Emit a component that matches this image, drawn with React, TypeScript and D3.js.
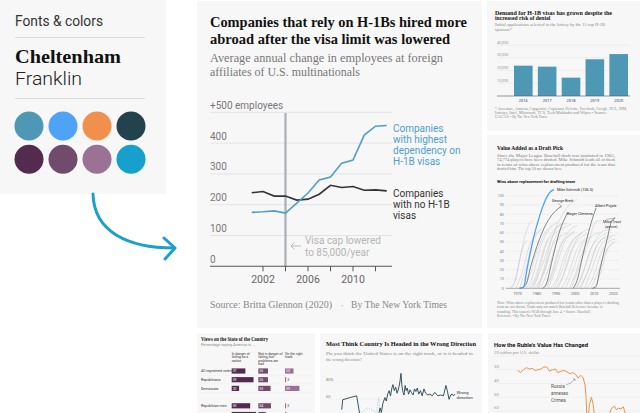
import React, { useRef, useEffect } from "react";
import * as d3 from "d3";

type G = d3.Selection<any, unknown, null, undefined>;

const SANS = "Roboto, 'Liberation Sans', sans-serif";
const SERIF = "'Liberation Serif', 'Times New Roman', serif";

// fonts & colors card
const swatches = ["#4f98b5", "#4ea3f7", "#f0904c", "#22434d", "#522b4f", "#704b6b", "#9b7195", "#17a0cc"];

// main chart: H-1B dependency
const years = [2001, 2002, 2003, 2004, 2005, 2006, 2007, 2008, 2009, 2010, 2011, 2012, 2013];
const highDependency = [175, 177, 180, 173, 205, 238, 280, 290, 335, 345, 426, 455, 457];
const noH1B = [239, 243, 228, 228, 215, 218, 234, 263, 256, 259, 247, 248, 245];
const employeeTicks = [0, 100, 200, 300, 400, 500];
const yearTicks = [2002, 2004, 2006, 2008, 2010, 2012];
const yearLabels = [2002, 2006, 2010];
const capYear = 2004;
const highLabel = ["Companies", "with highest", "dependency on", "H-1B visas"];
const noneLabel = ["Companies", "with no H-1B", "visas"];
const capNote = ["Visa cap lowered", "to 85,000/year"];

// thumbnail: lottery demand
const lotteryYears = ["2016", "2017", "2018", "2019", "2020"];
const lotteryApps = [23800, 23000, 14400, 28800, 32900];
const lotteryTicks = [10000, 20000, 30000, 40000];

// thumbnail: draft picks (year, cumulative WAR)
const warTicks = [0, 10, 20, 30, 40, 50, 60, 70, 80, 90, 100];
const draftTicks = [1970, 1980, 1990, 2000, 2010, 2020];
const otherPlayers: [number, number][][] = [
  [[1966, 0], [1968, 5], [1971, 30], [1974, 58], [1977, 72], [1978, 73]],
  [[1966, 0], [1969, 10], [1972, 40], [1975, 52]],
  [[1969, 0], [1972, 15], [1976, 45], [1980, 60], [1983, 65]],
  [[1971, 0], [1974, 20], [1978, 50], [1982, 63]],
  [[1973, 0], [1976, 12], [1980, 40], [1985, 62], [1988, 68]],
  [[1974, 0], [1977, 8], [1982, 45], [1987, 65], [1991, 72]],
  [[1976, 0], [1979, 10], [1984, 45], [1989, 63], [1993, 70]],
  [[1977, 0], [1980, 12], [1985, 48], [1990, 60], [1994, 66]],
  [[1978, 0], [1982, 20], [1987, 50], [1992, 68], [1996, 70]],
  [[1979, 0], [1983, 15], [1988, 45], [1993, 58]],
  [[1980, 0], [1984, 18], [1989, 52], [1994, 65], [1998, 69]],
  [[1981, 0], [1983, 15], [1988, 55], [1993, 78], [1998, 92], [2001, 95.9]],
  [[1982, 0], [1986, 20], [1991, 52], [1996, 60]],
  [[1984, 0], [1987, 12], [1992, 45], [1997, 58], [2000, 62]],
  [[1985, 0], [1988, 15], [1993, 48], [1998, 64], [2001, 68]],
  [[1986, 0], [1990, 22], [1995, 52], [2000, 60]],
  [[1987, 0], [1990, 8], [1995, 38], [2000, 55], [2004, 60]],
  [[1989, 0], [1993, 18], [1998, 48], [2003, 58]],
  [[1990, 0], [1993, 10], [1998, 40], [2003, 55], [2007, 59]],
  [[1991, 0], [1995, 20], [2000, 50], [2005, 62], [2008, 64]],
  [[1993, 0], [1996, 12], [2001, 42], [2006, 55]],
  [[1995, 0], [1999, 20], [2004, 48], [2009, 56]],
  [[1997, 0], [2000, 15], [2005, 45], [2010, 58], [2013, 60]],
  [[1998, 0], [2002, 22], [2007, 50], [2011, 72], [2014, 73]],
  [[2000, 0], [2003, 10], [2008, 42], [2013, 55], [2017, 60]],
  [[2001, 0], [2005, 22], [2010, 50], [2015, 62], [2019, 64]],
  [[2002, 0], [2006, 15], [2011, 45], [2016, 55]],
  [[2003, 0], [2007, 20], [2012, 48], [2017, 56], [2021, 57]],
  [[2005, 0], [2009, 22], [2014, 48], [2019, 55]],
  [[2006, 0], [2009, 10], [2014, 40], [2019, 52], [2021, 53]],
  [[2008, 0], [2011, 12], [2016, 40], [2020, 50]],
  [[2010, 0], [2013, 15], [2017, 42], [2021, 50]],
];
const schmidt: [number, number][] = [[1971, 0], [1973, 1], [1975, 22], [1978, 52], [1981, 75], [1984, 93], [1987, 104], [1989, 106.5]];
const brett: [number, number][] = [[1971, 0], [1974, 3], [1977, 25], [1980, 45], [1985, 70], [1990, 84], [1993, 88.6]];
const clemens: [number, number][] = [[1983, 0], [1985, 5], [1988, 30], [1992, 62], [1996, 81]];
const pujols: [number, number][] = [[1999, 0], [2001, 8], [2004, 35], [2007, 60], [2010, 81], [2011, 86.6]];
const trout: [number, number][] = [[2009, 0], [2011, 2], [2013, 20], [2015, 38], [2017, 55], [2019, 72], [2021, 76]];

// thumbnail: views on the country
const stateGroups = ["All registered voters", "Republicans", "Democrats", "Republican men", "Republican women"];
const inDanger = [37, 59, 20, 50, 66];
const notInDanger = [26, 26, 33, 34, 20];
const rightTrack = [23, 3, 39, 3, 4];
const stateHeaders = [
  ["In danger of", "failing as a", "nation"],
  ["Not in danger of", "failing, but", "problems are", "bad"],
  ["On the right", "track"],
];

// thumbnail: wrong direction poll
const pollYears = [1990.2, 1990.5, 1992.6, 1994.5, 1995.9, 1997.7, 2000.2, 2000.8, 2001.2, 2001.6, 2002.0, 2002.6, 2003.0, 2003.4, 2003.8, 2004.2, 2004.6, 2004.9, 2005.3, 2005.7, 2006.1, 2006.5, 2006.9, 2007.2, 2007.5, 2007.8, 2008.1, 2008.4, 2008.7, 2009.0, 2009.4, 2009.8, 2010.2, 2010.7, 2011.1, 2011.5, 2011.9, 2012.3, 2012.8, 2013.3, 2013.8, 2014.3, 2014.9, 2015.5, 2016.2, 2016.9, 2017.8, 2018.6, 2019.4, 2020.1, 2020.5, 2021.0, 2021.5, 2021.9, 2022.3, 2022.7];
const wrongDirection = [48, 59.5, 62, 64, 30, 28, 35, 42, 50, 45, 55, 62, 58, 66, 70, 64, 73, 77, 70, 74, 67, 72, 80, 90, 75, 68, 65, 76, 70, 73, 66, 71, 68, 65, 72, 69, 73, 66, 70, 64, 72, 67, 65, 66, 64, 68, 64, 65, 64, 76, 70, 60, 65, 66, 64, 66];
const rightDirection = [38, 35, 33, 30, 45, 50, 45, 62, 48, 40, 35, 30, 33, 28, 25, 30, 22, 20, 25, 22, 27, 24, 15, 8, 20, 27, 30, 20, 25, 22, 29, 24, 27, 30, 22, 26, 22, 29, 25, 31, 23, 28, 30, 29, 31, 27, 31, 30, 31, 18, 25, 33, 28, 27, 30, 28];
const pollTicks = [60, 80];

// thumbnail: ruble
const rubleDates = [2009.0, 2009.25, 2009.5, 2009.75, 2010.0, 2010.25, 2010.5, 2010.75, 2011.0, 2011.25, 2011.5, 2011.75, 2012.0, 2012.25, 2012.45, 2012.75, 2013.0, 2013.25, 2013.5, 2013.75, 2014.0, 2014.2, 2014.45, 2014.65, 2014.8, 2014.9, 2014.97, 2015.05, 2015.2, 2015.35, 2015.5, 2015.65, 2015.8, 2016.05, 2016.3, 2016.6, 2016.9, 2017.1, 2017.35, 2017.5, 2017.7, 2017.9, 2018.1, 2018.3, 2018.6, 2018.9, 2019.2, 2019.5];
const rublesPerDollar = [30.5, 32, 30, 28.5, 29.5, 29, 30.5, 30, 29.5, 28, 28, 31, 30, 29.5, 32, 31, 30.5, 31.5, 33, 32, 33.5, 36, 34, 36, 41, 50, 68, 66, 55, 50, 55, 65, 64, 78, 67, 64, 62, 58, 56.5, 59, 58, 58.5, 57, 62, 65, 67, 65, 63];
const rubleTicks = [20, 30, 40, 50, 60];

const label = (
  g: G, x: number, y: number, s: string, size: number, fill: string, font = SANS,
  o: { weight?: number; anchor?: string; len?: number } = {}
) => {
  const t = g.append("text").attr("x", x).attr("y", y).attr("font-size", size)
    .attr("fill", fill).attr("font-family", font).text(s);
  if (o.weight) t.attr("font-weight", o.weight);
  if (o.anchor) t.attr("text-anchor", o.anchor);
  if (o.len) t.attr("textLength", o.len).attr("lengthAdjust", "spacingAndGlyphs");
  return t;
};

const panel = (g: G, x: number, y: number, w: number, h: number) =>
  g.append("rect").attr("x", x).attr("y", y).attr("width", w).attr("height", h).attr("fill", "#f7f7f7");

const drawCard = (svg: G) => {
  const g = svg.append("g");
  panel(g, 0, 0, 166, 194);
  label(g, 15, 26, "Fonts & colors", 14, "#333", SANS, { len: 88 });
  g.append("line").attr("x1", 15).attr("x2", 145).attr("y1", 37.5).attr("y2", 37.5).attr("stroke", "#dcdcdc");
  label(g, 15, 63, "Cheltenham", 19, "#111", SERIF, { weight: 700, len: 106 });
  label(g, 15, 84.5, "Franklin", 19, "#222", SANS, { weight: 300, len: 67 });
  g.append("line").attr("x1", 15).attr("x2", 145).attr("y1", 98.5).attr("y2", 98.5).attr("stroke", "#dcdcdc");
  const cx = d3.scaleLinear().domain([0, 3]).range([29, 131]);
  const cy = d3.scaleLinear().domain([0, 1]).range([126, 159.3]);
  g.selectAll("circle.sw").data(swatches).join("circle")
    .attr("cx", (_, i) => cx(i % 4)).attr("cy", (_, i) => cy(Math.floor(i / 4)))
    .attr("r", 14.5).attr("fill", (d) => d);
  g.append("path").attr("d", "M93,194 C94,232 128,248 174,248").attr("fill", "none")
    .attr("stroke", "#1a9fcf").attr("stroke-width", 3).attr("stroke-linecap", "round");
  g.append("path").attr("d", "M164,238 L175,248 L165,259").attr("fill", "none")
    .attr("stroke", "#1a9fcf").attr("stroke-width", 3).attr("stroke-linecap", "round").attr("stroke-linejoin", "round");
};

const drawMain = (svg: G) => {
  const g = svg.append("g");
  panel(g, 197, 1, 285, 327);
  label(g, 210, 26.5, "Companies that rely on H-1Bs hired more", 15, "#121212", SERIF, { weight: 700, len: 257 });
  label(g, 210, 44, "abroad after the visa limit was lowered", 15, "#121212", SERIF, { weight: 700, len: 240 });
  label(g, 210, 61.5, "Average annual change in employees at foreign", 12.5, "#777", SERIF, { len: 233 });
  label(g, 210, 75.5, "affiliates of U.S. multinationals", 12.5, "#777", SERIF, { len: 150 });

  const x = d3.scaleLinear().domain([2001, 2013]).range([251.75, 386.75]);
  const y = d3.scaleLinear().domain([0, 500]).range([266.3, 112.3]);

  employeeTicks.forEach((v) => {
    if (v > 0) g.append("line").attr("x1", 210).attr("x2", 392).attr("y1", y(v)).attr("y2", y(v)).attr("stroke", "#e3e3e3");
    label(g, 210, y(v) - 3.5, v === 500 ? "+500 employees" : String(v), 10, "#777");
  });
  g.append("line").attr("x1", x(capYear)).attr("x2", x(capYear)).attr("y1", 113).attr("y2", y(0))
    .attr("stroke", "#a7b0b4").attr("stroke-width", 2.2);
  g.append("line").attr("x1", 210).attr("x2", 392).attr("y1", y(0)).attr("y2", y(0)).attr("stroke", "#555").attr("stroke-width", 1.1);
  yearTicks.forEach((t) => {
    g.append("line").attr("x1", x(t)).attr("x2", x(t)).attr("y1", y(0)).attr("y2", y(0) + 5).attr("stroke", "#555");
  });
  yearLabels.forEach((t) => label(g, x(t), 283, String(t), 10.5, "#666", SANS, { anchor: "middle" }));

  const line = d3.line<number>().x((_, i) => x(years[i])).y((d) => y(d));
  g.append("path").attr("d", line(noH1B)).attr("fill", "none").attr("stroke", "#333").attr("stroke-width", 1.6);
  g.append("path").attr("d", line(highDependency)).attr("fill", "none").attr("stroke", "#4f9fcb").attr("stroke-width", 1.6);

  highLabel.forEach((s, i) => label(g, 393, 131.5 + i * 11, s, 10, "#4f9fcb"));
  noneLabel.forEach((s, i) => label(g, 393, 196.5 + i * 11, s, 10, "#333"));

  g.append("path").attr("d", "M291,246 L301,246 M294.5,242.5 L291,246 L294.5,249.5").attr("fill", "none")
    .attr("stroke", "#bbb").attr("stroke-width", 1);
  capNote.forEach((s, i) => label(g, 305, 244 + i * 12, s, 10, "#b5b5b5"));

  label(g, 210, 308, "Source: Britta Glennon (2020)", 9.5, "#888", SERIF, { len: 122 });
  label(g, 341, 308, "•", 7, "#ccc", SERIF);
  label(g, 351, 308, "By The New York Times", 9.5, "#888", SERIF, { len: 96 });
};

const drawLottery = (svg: G) => {
  const g = svg.append("g");
  panel(g, 487, 1, 153, 130);
  label(g, 495, 14.5, "Demand for H-1B visas has grown despite the", 5.6, "#111", SERIF, { weight: 700, len: 117 });
  label(g, 495, 20, "increased risk of denial", 5.6, "#111", SERIF, { weight: 700 });
  label(g, 495, 26, "Initial applications selected in the lottery by the 15 top H-1B", 4.2, "#888", SERIF, { len: 110 });
  label(g, 495, 30.5, "sponsors*", 4.2, "#888", SERIF);
  const y = d3.scaleLinear().domain([0, 40000]).range([96, 45]);
  const x = d3.scaleBand().domain(lotteryYears).range([514, 628]).paddingInner(0.22);
  lotteryTicks.forEach((v) => {
    g.append("line").attr("x1", 497).attr("x2", 630).attr("y1", y(v)).attr("y2", y(v)).attr("stroke", "#e2e2e2").attr("stroke-width", 0.5);
    label(g, 497, y(v) - 1.3, d3.format(",")(v), 3.8, "#999");
  });
  g.selectAll("rect.bar").data(lotteryApps).join("rect")
    .attr("x", (_, i) => x(lotteryYears[i])!).attr("width", x.bandwidth())
    .attr("y", (d) => y(d)).attr("height", (d) => y(0) - y(d)).attr("fill", "#4f98b5");
  g.append("line").attr("x1", 497).attr("x2", 630).attr("y1", y(0)).attr("y2", y(0)).attr("stroke", "#555").attr("stroke-width", 0.6);
  lotteryYears.forEach((s) => label(g, x(s)! + x.bandwidth() / 2, 102, s, 4, "#444", SANS, { anchor: "middle" }));
  label(g, 495, 110, "* Accenture, Amazon, Capgemini, Cognizant, Deloitte, Facebook, Google, HCL, IBM,", 3.5, "#888", SERIF, { len: 132 });
  label(g, 495, 114, "Infosys, Intel, Microsoft, TCS, Tech Mahindra and Wipro  •  Source:", 3.5, "#888", SERIF, { len: 112 });
  label(g, 495, 118, "U.S.C.I.S.  •  By The New York Times", 3.5, "#888", SERIF);
};

const drawDraft = (svg: G) => {
  const g = svg.append("g");
  panel(g, 487, 135, 153, 193);
  label(g, 497, 150, "Value Added as a Draft Pick", 6.2, "#111", SERIF, { weight: 700, len: 66 });
  const desc = [
    "Since the Major League Baseball draft was instituted in 1965,",
    "74,774 players have been drafted. Mike Schmidt leads all of them",
    "in terms of wins above replacement produced for the team that",
    "drafted him. The top 50 are shown here.",
  ];
  desc.forEach((s, i) => label(g, 497, 156.7 + i * 4.5, s, 4.1, "#777", SERIF, i < 3 ? { len: 118 } : {}));
  label(g, 497, 183, "Wins above replacement for drafting team", 4.2, "#111", SANS, { weight: 700, len: 78 });

  const x = d3.scaleLinear().domain([1970, 2020]).range([517.7, 613.3]);
  const y = d3.scaleLinear().domain([0, 100]).range([288.3, 195.7]);
  warTicks.forEach((v) => {
    if (v > 0) g.append("line").attr("x1", 506).attr("x2", 620).attr("y1", y(v)).attr("y2", y(v))
      .attr("stroke", "#d5d5d5").attr("stroke-width", 0.4).attr("stroke-dasharray", "1,1");
    label(g, 504, y(v) + 1.3, String(v), 3.8, "#888", SANS, { anchor: "end" });
  });
  g.append("line").attr("x1", 506).attr("x2", 620).attr("y1", y(0)).attr("y2", y(0)).attr("stroke", "#555").attr("stroke-width", 0.5);
  draftTicks.forEach((t) => label(g, x(t), 295, String(t), 3.8, "#666", SANS, { anchor: "middle" }));

  const line = d3.line<[number, number]>().x((d) => x(d[0])).y((d) => y(d[1])).curve(d3.curveMonotoneX);
  otherPlayers.forEach((p) => g.append("path").attr("d", line(p)).attr("fill", "none").attr("stroke", "#c4c4c4").attr("stroke-width", 0.5));
  [brett, clemens, pujols, trout].forEach((p) => g.append("path").attr("d", line(p)).attr("fill", "none").attr("stroke", "#555").attr("stroke-width", 0.7));
  g.append("path").attr("d", line(schmidt)).attr("fill", "none").attr("stroke", "#4ea3f7").attr("stroke-width", 1.3);

  const last = (p: [number, number][]) => p[p.length - 1];
  label(g, x(last(schmidt)[0]) + 3, y(last(schmidt)[1]) + 1.5, "Mike Schmidt (106.5)", 3.8, "#222");
  label(g, 552, 202, "George Brett", 3.8, "#222");
  label(g, 567, 214.5, "Roger Clemens", 3.8, "#222");
  label(g, 595, 206.5, "Albert Pujols", 3.8, "#222");
  label(g, 603, 223, "Mike Trout", 3.8, "#222");
  label(g, 605, 227.5, "(active)", 3.8, "#222");
  g.append("path").attr("d", `M558,203.5 L${x(last(brett)[0])},${y(last(brett)[1])}`).attr("stroke", "#555").attr("stroke-width", 0.4);
  g.append("path").attr("d", `M566,213 L${x(last(clemens)[0])},${y(last(clemens)[1])}`).attr("stroke", "#555").attr("stroke-width", 0.4);
  g.append("path").attr("d", `M606,219.5 L${x(last(trout)[0])},${y(last(trout)[1])}`).attr("stroke", "#555").attr("stroke-width", 0.4);

  const note = [
    "Note: Wins above replacement produced for teams other than a player's drafting",
    "team are not shown. Totals may not match Baseball Reference because of",
    "rounding. This season's WAR through June 4.  •  Source: Baseball",
    "Reference  •  By The New York Times",
  ];
  note.forEach((s, i) => label(g, 497, 304 + i * 4.4, s, 3.6, "#888", SERIF, i < 1 ? { len: 122 } : {}));
};

const drawViews = (svg: G) => {
  const g = svg.append("g");
  panel(g, 197, 333, 118, 80);
  label(g, 201, 341, "Views on the State of the Country", 5.4, "#111", SERIF, { weight: 700, len: 67 });
  label(g, 201, 346, "Percentage saying America is ...", 3.8, "#888", SANS);
  const colX = d3.scaleLinear().domain([0, 2]).range([231.7, 285]);
  stateHeaders.forEach((lines, c) => lines.forEach((s, i) => label(g, colX(c), 355 + i * 3.4, s, 3.4, "#333")));
  const rowY = d3.scaleLinear().domain([0, 1]).range([371, 379.7]);
  const slots = [0, 1, 2, 4, 5];
  const w = d3.scaleLinear().domain([0, 100]).range([0, 37]);
  const cols = [inDanger, notInDanger, rightTrack];
  const colors = ["#522b4f", "#704b6b", "#9b7195"];
  stateGroups.forEach((name, r) => {
    const cy = rowY(slots[r]);
    const visible = cy < 410;
    if (visible) label(g, 201, cy + 1.3, name, 3.6, "#333");
    g.append("line").attr("x1", 201).attr("x2", 312).attr("y1", cy + 4.2).attr("y2", cy + 4.2)
      .attr("stroke", "#ddd").attr("stroke-width", 0.4).attr("stroke-dasharray", "1,1");
    cols.forEach((vals, c) => {
      const bw = w(vals[r]);
      g.append("rect").attr("x", colX(c)).attr("y", cy - 2.6).attr("width", bw).attr("height", 5.2).attr("fill", colors[c]);
      if (!visible) return;
      if (bw > 6) label(g, colX(c) + 1, cy + 1.3, String(vals[r]), 3.4, "#fff");
      else label(g, colX(c) + bw + 1.2, cy + 1.3, String(vals[r]), 3.4, "#333");
    });
  });
};

const drawPoll = (svg: G) => {
  const g = svg.append("g");
  panel(g, 320, 333, 162, 80);
  label(g, 326, 346, "Most Think Country Is Headed in the Wrong Direction", 6, "#111", SERIF, { weight: 700, len: 150 });
  label(g, 326, 354.5, "Do you think the United States is on the right track, or is it headed in", 4.3, "#888", SERIF, { len: 147 });
  label(g, 326, 360.5, "the wrong direction?", 4.3, "#888", SERIF);
  const x = d3.scaleLinear().domain([1990, 2023]).range([341, 456]);
  const y = d3.scaleLinear().domain([40, 80]).range([416.6, 382]);
  pollTicks.forEach((v) => {
    g.append("line").attr("x1", 326).attr("x2", 456).attr("y1", y(v)).attr("y2", y(v))
      .attr("stroke", "#ddd").attr("stroke-width", 0.4).attr("stroke-dasharray", "1,1");
    label(g, 326, y(v) - 1.5, v === 80 ? "80%" : String(v), 4, "#888");
  });
  const clip = g.append("clipPath").attr("id", "pollclip");
  clip.append("rect").attr("x", 320).attr("y", 362).attr("width", 162).attr("height", 60);
  const plot = g.append("g").attr("clip-path", "url(#pollclip)");
  const line = d3.line<number>().x((_, i) => x(pollYears[i])).y((d) => y(d));
  plot.append("path").attr("d", line(rightDirection)).attr("fill", "none").attr("stroke", "#8fc3dc").attr("stroke-width", 0.6).attr("stroke-dasharray", "1.5,1");
  plot.append("path").attr("d", line(wrongDirection)).attr("fill", "none").attr("stroke", "#22434d").attr("stroke-width", 0.9);
  label(g, 456.5, 393.5, "Wrong", 4.2, "#333");
  label(g, 456.5, 398.5, "direction", 4.2, "#333");
};

const drawRuble = (svg: G) => {
  const g = svg.append("g");
  panel(g, 488, 333, 152, 80);
  label(g, 494, 347, "How the Ruble's Value Has Changed", 5.6, "#111", SANS, { weight: 700, len: 94 });
  const x = d3.scaleLinear().domain([2009, 2019]).range([517.7, 633.7]);
  const y = d3.scaleLinear().domain([20, 60]).range([356, 411]);
  rubleTicks.forEach((v) => {
    g.append("line").attr("x1", 494).attr("x2", 640).attr("y1", y(v)).attr("y2", y(v)).attr("stroke", "#e6e6e6").attr("stroke-width", 0.5);
    label(g, 494, y(v) - 1.6, v === 20 ? "20 rubles per U.S. dollar" : String(v), 4.3, "#999");
  });
  const line = d3.line<number>().x((_, i) => x(rubleDates[i])).y((d) => y(d));
  g.append("path").attr("d", line(rublesPerDollar)).attr("fill", "none").attr("stroke", "#f0904c").attr("stroke-width", 1);
  ["Russia", "annexes", "Crimea"].forEach((s, i) => label(g, 551, 388 + i * 7.2, s, 4.6, "#555"));
  g.append("path").attr("d", "M566,385 Q571,384 575,379 M573,379 L575,379 L575,381").attr("fill", "none").attr("stroke", "#555").attr("stroke-width", 0.4);
};

const App = () => {
  const ref = useRef<SVGSVGElement>(null);
  useEffect(() => {
    const svg = d3.select(ref.current) as unknown as G;
    svg.selectAll("*").remove();
    drawCard(svg);
    drawMain(svg);
    drawLottery(svg);
    drawDraft(svg);
    drawViews(svg);
    drawPoll(svg);
    drawRuble(svg);
  }, []);
  return (
    <svg ref={ref} width={640} height={413}
      style={{ position: "absolute", left: 0, top: 0, background: "#fff", overflow: "hidden" }} />
  );
};

export default App;
